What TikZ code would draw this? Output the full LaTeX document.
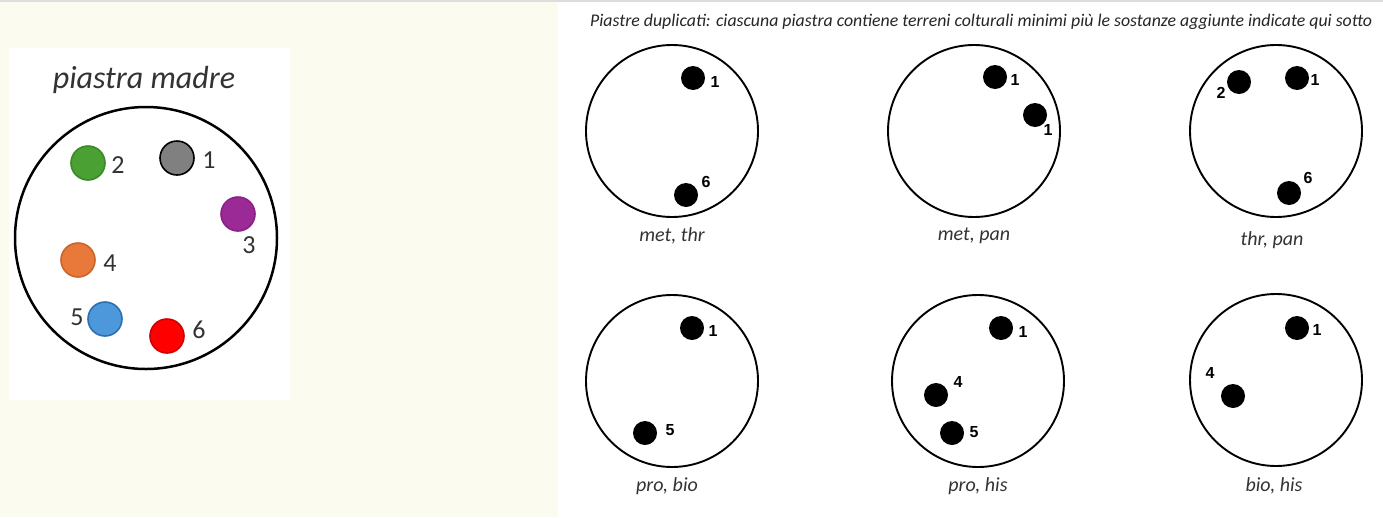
\documentclass[tikz,border=0pt]{standalone}
\usepackage{fontspec}
\setmainfont{Carlito}
\newfontfamily\handfont{Liberation Sans}
\definecolor{cream}{HTML}{FBFCEF}
\definecolor{txtgray}{HTML}{333333}
\definecolor{topline}{HTML}{DDDDDD}
\definecolor{cgreen}{HTML}{4AA032}
\definecolor{cgreenb}{HTML}{3A8A28}
\definecolor{cgray}{HTML}{808080}
\definecolor{cpurple}{HTML}{9C2A96}
\definecolor{cpurpleb}{HTML}{8A2285}
\definecolor{corange}{HTML}{E8793A}
\definecolor{corangeb}{HTML}{C9652C}
\definecolor{cblue}{HTML}{4C98DA}
\definecolor{cblueb}{HTML}{2F6FAE}
\definecolor{cred}{HTML}{FF0000}
\definecolor{credb}{HTML}{D00000}
\begin{document}
\begin{tikzpicture}[x=1pt,y=-1pt,
  plate/.style={draw=black, line width=1.9pt, circle, minimum size=172pt, inner sep=0pt},
  mplate/.style={draw=black, line width=2.5pt, circle, minimum size=262pt, inner sep=0pt},
  cdot/.style={circle, minimum size=34pt, inner sep=0pt, line width=1.6pt},
  bdot/.style={circle, fill=black, minimum size=24pt, inner sep=0pt},
  hand/.style={font=\handfont\bfseries\fontsize{16}{16}\selectfont, text=black, inner sep=0pt},
  mnum/.style={font=\fontsize{26}{26}\selectfont, text=txtgray, inner sep=0pt},
  caption/.style={font=\itshape\fontsize{20}{20}\selectfont, text=txtgray, inner sep=0pt},
  header/.style={font=\itshape\fontsize{17.8}{17.8}\selectfont, text=black!85, inner sep=0pt}]
\useasboundingbox (0,0) rectangle (1383,517);
% backgrounds
\fill[white] (0,0) rectangle (1383,517);
\fill[cream] (0,0) rectangle (558,517);
\fill[white] (9,48) rectangle (290,400);
\fill[topline] (0,0) rectangle (1383,2);
% mother plate
\node[caption, font=\itshape\fontsize{32}{32}\selectfont] (mtitle) at (144,80) {piastra madre};
\node[mplate] (mp) at (146,238) {};
\node[cdot, fill=cgray, draw=black] (m1) at (177,158) {};
\node[cdot, fill=cgreen, draw=cgreenb] (m2) at (88,163) {};
\node[cdot, fill=cpurple, draw=cpurpleb] (m3) at (238,214) {};
\node[cdot, fill=corange, draw=corangeb] (m4) at (78,260) {};
\node[cdot, fill=cblue, draw=cblueb] (m5) at (105,319) {};
\node[cdot, fill=cred, draw=credb] (m6) at (167,336) {};
\node[mnum] (l1) at (209,160) {1};
\node[mnum] (l2) at (118,165) {2};
\node[mnum] (l3) at (249,245) {3};
\node[mnum] (l4) at (110,263) {4};
\node[mnum] (l5) at (77,317) {5};
\node[mnum] (l6) at (199,330) {6};
% header
\node[header, anchor=west] (head) at (590,22) {Piastre duplicati: ciascuna piastra contiene terreni colturali minimi più le sostanze aggiunte indicate qui sotto};
% plate A: met, thr
\node[plate] (pa) at (672,131) {};
\node[bdot] (pa1) at (693,78) {};
\node[hand] (pa1l) at (715,82) {1};
\node[bdot] (pa6) at (686,195) {};
\node[hand] (pa6l) at (706,182) {6};
\node[caption] (pac) at (672,236) {met, thr};
% plate B: met, pan
\node[plate] (pb) at (974,131) {};
\node[bdot] (pb1) at (995,77) {};
\node[hand] (pb1l) at (1015,80) {1};
\node[bdot] (pb3) at (1035,115) {};
\node[hand] (pb3l) at (1048,130) {1};
\node[caption] (pbc) at (974,236) {met, pan};
% plate C: thr, pan
\node[plate] (pc) at (1276,131) {};
\node[bdot] (pc2) at (1239,82) {};
\node[hand] (pc2l) at (1221,93) {2};
\node[bdot] (pc1) at (1297,78) {};
\node[hand] (pc1l) at (1315,80) {1};
\node[bdot] (pc6) at (1289,193) {};
\node[hand] (pc6l) at (1308,178) {6};
\node[caption] (pcc) at (1272,240) {thr, pan};
% plate D: pro, bio
\node[plate] (pd) at (672,381) {};
\node[bdot] (pd1) at (692,328) {};
\node[hand] (pd1l) at (713,331) {1};
\node[bdot] (pd5) at (645,433) {};
\node[hand] (pd5l) at (670,430) {5};
\node[caption] (pdc) at (667,486) {pro, bio};
% plate E: pro, his
\node[plate] (pe) at (978,381) {};
\node[bdot] (pe1) at (1001,328) {};
\node[hand] (pe1l) at (1023,332) {1};
\node[bdot] (pe4) at (936,395) {};
\node[hand] (pe4l) at (958,382) {4};
\node[bdot] (pe5) at (952,433) {};
\node[hand] (pe5l) at (974,432) {5};
\node[caption] (pec) at (978,486) {pro, his};
% plate F: bio, his
\node[plate] (pf) at (1276,380) {};
\node[bdot] (pf1) at (1297,328) {};
\node[hand] (pf1l) at (1317,330) {1};
\node[bdot] (pf4) at (1233,396) {};
\node[hand] (pf4l) at (1210,373) {4};
\node[caption] (pfc) at (1274,486) {bio, his};
\end{tikzpicture}
\end{document}
